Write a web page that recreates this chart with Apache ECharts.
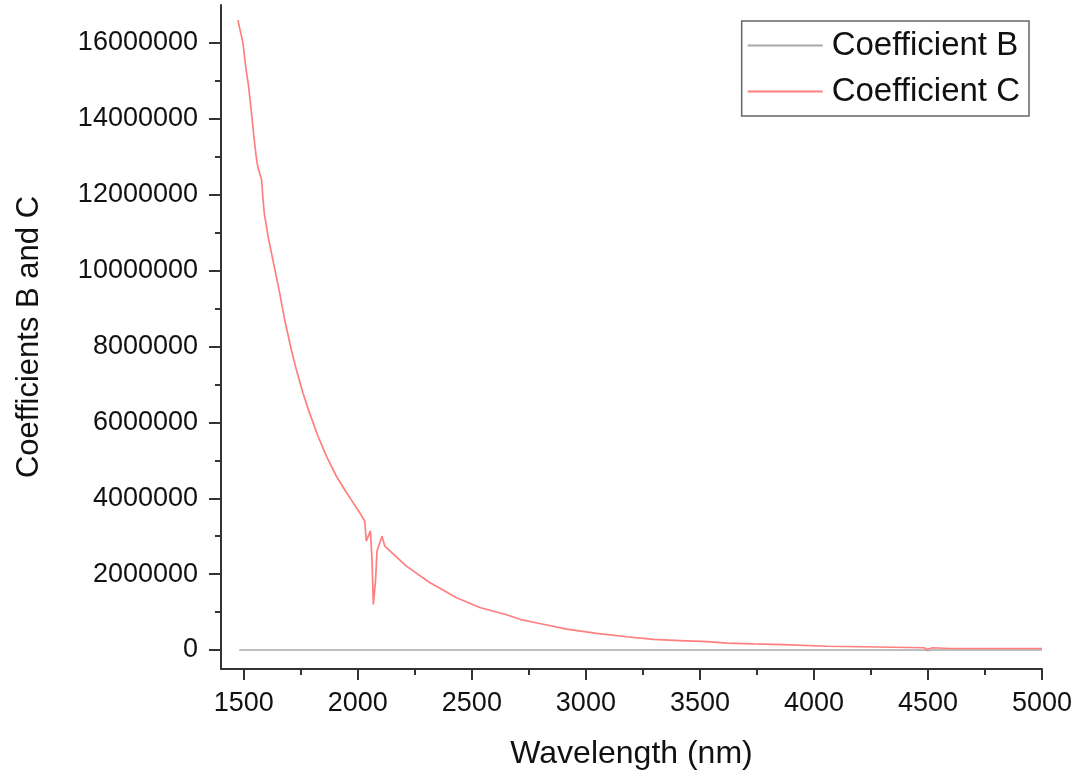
<!DOCTYPE html>
<html>
<head>
<meta charset="utf-8">
<script src="https://cdn.jsdelivr.net/npm/echarts@6/dist/echarts.min.js"></script>
<style>
html,body{margin:0;padding:0;background:#fff;}
#chart{width:1078px;height:776px;}
</style>
</head>
<body>
<div id="chart"></div>
<script>
// Data
const seriesNames = ['Coefficient B', 'Coefficient C'];
const wavelengthB = [1480, 2000, 2500, 3000, 3500, 4000, 4480, 4500, 4520, 5000];
const coeffB = [2.2, 2.1, 2.0, 2.0, 1.9, 1.9, 1.9, -15000, 1.9, 1.9];
const wavelengthC = [1474, 1489, 1496, 1510, 1521, 1532, 1544, 1554, 1561, 1570, 1578, 1583, 1590, 1608, 1632,
  1657, 1679, 1708, 1730, 1759, 1788, 1825, 1862, 1906, 1950, 1972, 2008, 2030, 2037, 2055, 2062, 2068,
  2078, 2084, 2106, 2118, 2213, 2315, 2433, 2535, 2652, 2711, 2813, 2916, 3047, 3179, 3296, 3413, 3530,
  3618, 3735, 3867, 4057, 4277, 4482, 4497, 4520, 4599, 5000];
const coeffC = [16600000, 16200000, 16000000, 15300000, 14860000, 14250000, 13540000, 13020000, 12750000, 12550000,
  12400000, 11960000, 11500000, 10850000, 10150000, 9420000, 8710000, 7920000, 7400000, 6780000, 6250000,
  5640000, 5110000, 4580000, 4150000, 3950000, 3620000, 3400000, 2870000, 3140000, 2390000, 1200000,
  1860000, 2610000, 3000000, 2740000, 2210000, 1780000, 1380000, 1120000, 930000, 810000, 680000, 550000,
  440000, 350000, 280000, 250000, 220000, 180000, 160000, 140000, 100000, 80000, 60000, 20000, 60000,
  40000, 40000];
const xMajorTicks = [1500, 2000, 2500, 3000, 3500, 4000, 4500, 5000];
const xMinorTicks = [1750, 2250, 2750, 3250, 3750, 4250, 4750];
const yMajorTicks = [0, 2000000, 4000000, 6000000, 8000000, 10000000, 12000000, 14000000, 16000000];
const yMinorTicks = [1000000, 3000000, 5000000, 7000000, 9000000, 11000000, 13000000, 15000000];
const xRange = [1400, 5000];
const yRange = [-500000, 17000000];
const xTitle = 'Wavelength (nm)';
const yTitle = 'Coefficients B and C';

const font = 'Liberation Sans, Arial, sans-serif';
const axisColor = '#333';
const textColor = '#111';

function zip(xs, ys) { return xs.map((x, i) => [x, ys[i]]); }

const chart = echarts.init(document.getElementById('chart'), null, {renderer: 'canvas'});
chart.setOption({
  animation: false,
  backgroundColor: '#fff',
  grid: {left: 221, right: 36, top: 5, bottom: 107, containLabel: false},
  legend: {
    data: seriesNames,
    orient: 'vertical',
    right: 49,
    top: 21,
    padding: [8, 9, 8, 6],
    itemGap: 13,
    itemWidth: 75,
    itemHeight: 2,
    icon: 'rect',
    borderColor: '#666',
    borderWidth: 1.5,
    textStyle: {fontFamily: font, fontSize: 33, color: textColor, padding: [0, 0, 0, 4], lineHeight: 30}
  },
  xAxis: [
    {
      type: 'value', min: xRange[0], max: xRange[1], position: 'bottom',
      name: xTitle, nameLocation: 'middle', nameGap: 69,
      nameTextStyle: {fontFamily: font, fontSize: 32, color: textColor},
      axisLine: {show: true, onZero: false, lineStyle: {color: axisColor, width: 2}},
      axisTick: {show: true, customValues: xMajorTicks, length: 11, inside: false, lineStyle: {color: axisColor, width: 2}},
      axisLabel: {show: true, customValues: xMajorTicks, margin: 21, fontFamily: font, fontSize: 27, color: textColor,
        formatter: v => String(Math.round(v))},
      splitLine: {show: false}
    },
    {
      type: 'value', min: xRange[0], max: xRange[1], position: 'bottom',
      axisLine: {show: false, onZero: false},
      axisTick: {show: true, customValues: xMinorTicks, length: 6, lineStyle: {color: axisColor, width: 2}},
      axisLabel: {show: false},
      splitLine: {show: false}
    }
  ],
  yAxis: [
    {
      type: 'value', min: yRange[0], max: yRange[1], position: 'left',
      name: yTitle, nameLocation: 'middle', nameGap: 176, nameRotate: 90,
      nameTextStyle: {fontFamily: font, fontSize: 31, color: textColor},
      axisLine: {show: true, onZero: false, lineStyle: {color: axisColor, width: 2}},
      axisTick: {show: true, customValues: yMajorTicks, length: 12, lineStyle: {color: axisColor, width: 2}},
      axisLabel: {show: true, customValues: yMajorTicks, margin: 23, fontFamily: font, fontSize: 27, color: textColor,
        formatter: v => String(Math.round(v))},
      splitLine: {show: false}
    },
    {
      type: 'value', min: yRange[0], max: yRange[1], position: 'left',
      axisLine: {show: false, onZero: false},
      axisTick: {show: true, customValues: yMinorTicks, length: 6, lineStyle: {color: axisColor, width: 2}},
      axisLabel: {show: false},
      splitLine: {show: false}
    }
  ],
  series: [
    {
      name: seriesNames[0], type: 'line', xAxisIndex: 0, yAxisIndex: 0,
      data: zip(wavelengthB, coeffB), showSymbol: false, symbol: 'none',
      lineStyle: {color: '#a8a8a8', width: 1.5}, itemStyle: {color: '#a8a8a8'}
    },
    {
      name: seriesNames[1], type: 'line', xAxisIndex: 0, yAxisIndex: 0,
      data: zip(wavelengthC, coeffC), showSymbol: false, symbol: 'none',
      lineStyle: {color: '#ff7f7f', width: 1.7}, itemStyle: {color: '#ff7f7f'}
    }
  ]
});
</script>
</body>
</html>
